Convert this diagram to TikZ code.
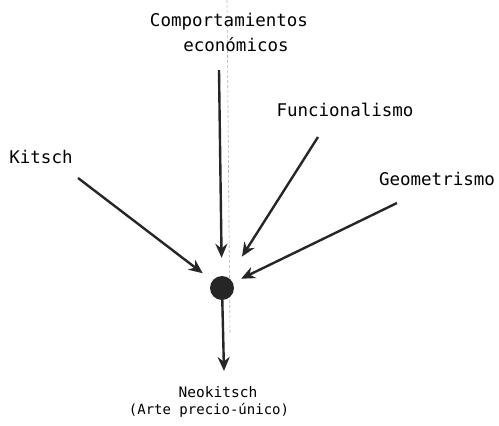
\documentclass[tikz,border=0pt]{standalone}
\usepackage{fontspec}
\setmonofont{DejaVu Sans Mono}
\usetikzlibrary{arrows.meta}
\begin{document}
\begin{tikzpicture}[x=1pt,y=-1pt,
  lbl/.style={font=\ttfamily\fontsize{17.5}{20}\selectfont, inner sep=0pt, text=black},
  lbls/.style={font=\ttfamily\fontsize{14.5}{17}\selectfont, inner sep=0pt, text=black},
  arr/.style={line width=2.4pt, black!85, -{Stealth[length=14pt,width=12pt]}},
  ]
\useasboundingbox (0,0) rectangle (499,426);
% faint fold line of the scan
\draw[black!30, line width=0.6pt, dash pattern=on 3pt off 2pt] (227,0) -- (230,335);
% labels
\node[lbl] (comp) at (229,22) {Comportamientos};
\node[lbl] (econ) at (236,45) {económicos};
\node[lbl] (func) at (345,110) {Funcionalismo};
\node[lbl] (kit) at (41,157) {Kitsch};
\node[lbl] (geo) at (437,179) {Geometrismo};
\node[lbls] (neo) at (218,392) {Neokitsch};
\node[lbls, font=\ttfamily\fontsize{14}{17}\selectfont] (arte) at (209,410) {(Arte precio-único)};
% hub
\node[circle, fill=black!85, minimum size=24pt, inner sep=0pt] (hub) at (222,288) {};
% arrow starts
\coordinate (c0) at (219,70);
\coordinate (f0) at (318,137);
\coordinate (k0) at (78,178);
\coordinate (g0) at (397,203);
\coordinate (n0) at (224,371);
\draw[arr, shorten >=18pt] (c0) -- (hub);
\draw[arr, shorten >=25pt] (f0) -- (hub);
\draw[arr, shorten >=12pt] (k0) -- (hub);
\draw[arr, shorten >=9pt] (g0) -- (hub);
\draw[arr] (hub) -- (n0);
\end{tikzpicture}
\end{document}
